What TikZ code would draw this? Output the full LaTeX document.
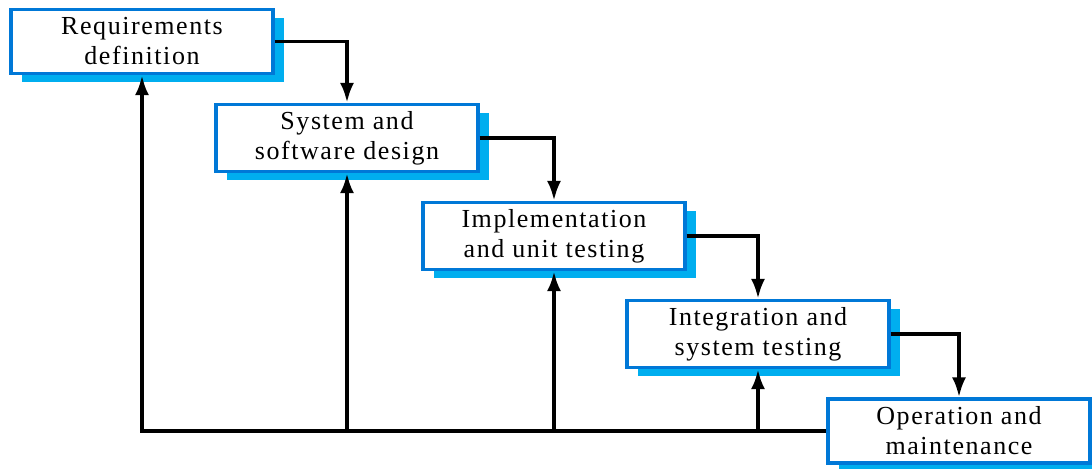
\documentclass[tikz,border=0pt]{standalone}
\usepackage{fontspec}
\setmainfont{Liberation Serif}[LetterSpace=6]
\usetikzlibrary{arrows.meta,shadows}
\definecolor{phaseblue}{RGB}{0,120,215}
\definecolor{phaseshadow}{RGB}{0,174,239}
\begin{document}
\begin{tikzpicture}[x=0.5pt,y=-0.5pt,
	phase/.style={draw=phaseblue, line width=1.6pt, fill=white, minimum width=131pt, minimum height=32pt, align=center, font=\fontsize{13}{15}\selectfont, drop shadow={shadow xshift=5.5pt, shadow yshift=-4pt, fill=phaseshadow, opacity=1}},
	flow/.style={line width=1.9pt, -{Latex[length=10pt,width=7pt]}}]
	\useasboundingbox (0,0) rectangle (1092,468);
	\node[phase] (req) at (142,41.5) {Requirements\\definition};
	\node[phase] (sys) at (347,138) {System and\\software design};
	\node[phase] (impl) at (554,236) {Implementation\\and unit testing};
	\node[phase] (integ) at (758,334) {Integration and\\system testing};
	\node[phase] (ops) at (959,431) {Operation and\\maintenance};
	% downward flow
	\draw[flow] (req.east) -| (sys.north);
	\draw[flow] (sys.east) -| (impl.north);
	\draw[flow] (impl.east) -| (integ.north);
	\draw[flow] (integ.east) -| (ops.north);
	% feedback
	\draw[flow] (ops.west) -| (req.south);
	\draw[flow] (sys.south |- ops.west) -- (sys.south);
	\draw[flow] (impl.south |- ops.west) -- (impl.south);
	\draw[flow] (integ.south |- ops.west) -- (integ.south);
\end{tikzpicture}
\end{document}
